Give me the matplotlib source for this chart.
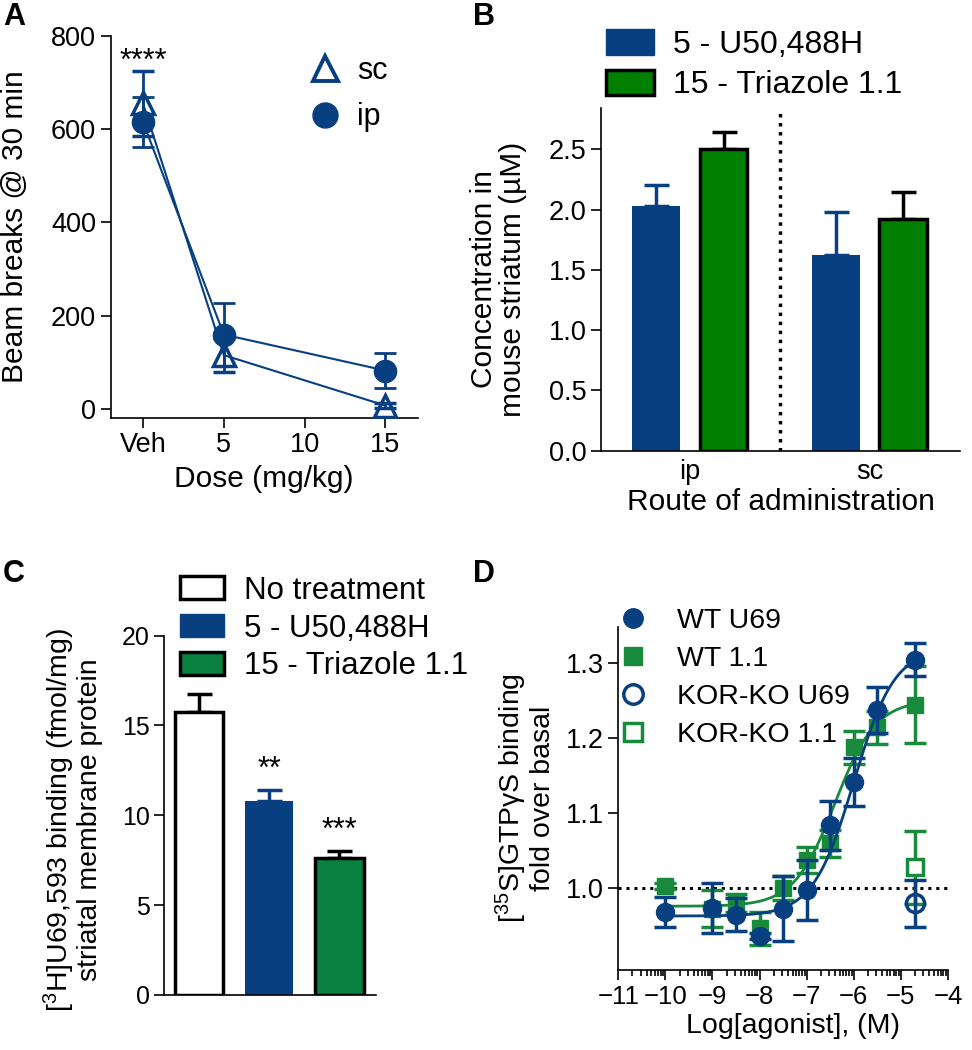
import numpy as np
import matplotlib
matplotlib.use("Agg")
import matplotlib.pyplot as plt
from matplotlib.patches import Patch
from matplotlib.lines import Line2D

plt.rcParams['font.family'] = ['Liberation Sans', 'DejaVu Sans']
plt.rcParams['mathtext.fontset'] = 'custom'
plt.rcParams['mathtext.rm'] = 'Liberation Sans'
plt.rcParams['mathtext.it'] = 'Liberation Sans:italic'
plt.rcParams['axes.spines.top'] = False
plt.rcParams['axes.spines.right'] = False
plt.rcParams['axes.linewidth'] = 1.2
plt.rcParams['xtick.major.width'] = 1.2
plt.rcParams['ytick.major.width'] = 1.2
plt.rcParams['xtick.major.size'] = 7
plt.rcParams['ytick.major.size'] = 7

BLUE = '#073f80'
GREEN_B = '#008000'
GREEN_C = '#0a8040'
GREEN_D = '#188a3c'

# ---- A: locomotor activity
dose_x = [0, 5, 15]
dose_ticks = [0, 5, 10, 15]
dose_labels = ['Veh', '5', '10', '15']
sc_mean = [655, 116, 8]
sc_err = [70, 37, 6]
ip_mean = [615, 160, 83]
ip_err = [53, 67, 37]

# ---- B: striatal concentration
routes = ['ip', 'sc']
u50_conc = [2.03, 1.62]
u50_err = [0.17, 0.36]
tri_conc = [2.50, 1.92]
tri_err = [0.145, 0.225]

# ---- C: [3H]U69,593 binding
treatments = ['No treatment', '5 - U50,488H', '15 - Triazole 1.1']
binding = [15.75, 10.77, 7.65]
binding_err = [1.0, 0.65, 0.36]
binding_stars = ['', '**', '***']

# ---- D: GTPgS binding
log_conc = [-10, -9, -8.5, -8, -7.5, -7, -6.5, -6, -5.5, -4.7]
wt_u69 = [0.968, 0.973, 0.964, 0.936, 0.972, 0.997, 1.083, 1.141, 1.237, 1.304]
wt_u69_err = [0.02, 0.033, 0.022, 0.004, 0.043, 0.04, 0.033, 0.032, 0.031, 0.022]
wt_11 = [1.002, 0.972, 0.979, 0.946, 0.999, 1.037, 1.059, 1.187, 1.214, 1.244]
wt_11_err = [0.004, 0.025, 0.012, 0.022, 0.016, 0.017, 0.018, 0.022, 0.022, 0.051]
ko_x = [-4.7]
ko_u69 = [0.979]
ko_u69_err = [0.031]
ko_11 = [1.027]
ko_11_err = [0.049]
# fitted sigmoid parameters (bottom, top, logEC50, hill)
u69_fit = (0.962, 1.32, -6.0, 1.0)
t11_fit = (0.975, 1.25, -6.4, 1.0)


def sigmoid(x, p):
    bottom, top, ec, hill = p
    return bottom + (top - bottom) / (1 + 10 ** ((ec - x) * hill))


TICK = 19.5
LAB = 21.5

fig = plt.figure(figsize=(9.72, 10.5), dpi=100)

# ================= A
axA = fig.add_axes([0.1139, 0.6022, 0.3158, 0.3638])
axA.errorbar(dose_x, sc_mean, yerr=sc_err, color=BLUE, lw=1.5, marker='^',
             ms=16, mfc='none', mec=BLUE, mew=2.5, capsize=8, capthick=2,
             elinewidth=2, zorder=3)
axA.errorbar(dose_x, ip_mean, yerr=ip_err, color=BLUE, lw=1.5, marker='o',
             ms=16, mfc=BLUE, mec=BLUE, capsize=8, capthick=2,
             elinewidth=2, zorder=3)
axA.set_xlim(-2, 17)
axA.set_ylim(-18, 800)
axA.set_xticks(dose_ticks)
axA.set_xticklabels(dose_labels)
axA.set_yticks([0, 200, 400, 600, 800])
axA.tick_params(labelsize=TICK)
axA.set_ylabel('Beam breaks @ 30 min', fontsize=LAB)
axA.set_xlabel('Dose (mg/kg)', fontsize=LAB)
axA.yaxis.set_label_coords(-0.265, 0.5)
axA.xaxis.set_label_coords(0.5, -0.125)
axA.text(0, 712, '****', ha='center', va='bottom', fontsize=22)
hA = [Line2D([], [], ls='none', marker='^', ms=18, mfc='none', mec=BLUE, mew=2.8),
      Line2D([], [], ls='none', marker='o', ms=18, mfc=BLUE, mec=BLUE)]
axA.legend(hA, ['sc', 'ip'], loc='upper left', bbox_to_anchor=(0.55, 1.02),
           frameon=False, fontsize=22, handlelength=1.2, handletextpad=0.45,
           labelspacing=0.55)
fig.text(0.003, 0.998, 'A', fontsize=22, fontweight='bold', va='top')

# ================= B
axB = fig.add_axes([0.6183, 0.5708, 0.3693, 0.3261])
xb = np.arange(len(routes))
wB = 0.267
axB.bar(xb - 0.187, u50_conc, wB, color=BLUE, zorder=2)
axB.bar(xb + 0.187, tri_conc, wB, color=GREEN_B, edgecolor='black', lw=2.5, zorder=2)
axB.errorbar(xb - 0.187, u50_conc, yerr=[np.zeros(2), u50_err], fmt='none',
             ecolor=BLUE, elinewidth=2.5, capsize=9, capthick=2.5, zorder=1)
axB.errorbar(xb + 0.187, tri_conc, yerr=[np.zeros(2), tri_err], fmt='none',
             ecolor='black', elinewidth=2.5, capsize=9, capthick=2.5, zorder=1)
axB.axvline(0.5, color='black', lw=2.5, ls=(0, (1, 1.6)))
axB.set_xlim(-0.495, 1.503)
axB.set_ylim(0, 2.84)
axB.set_yticks([0, 0.5, 1.0, 1.5, 2.0, 2.5])
axB.set_yticklabels(['%.1f' % v for v in [0, 0.5, 1.0, 1.5, 2.0, 2.5]])
axB.set_xticks(xb)
axB.set_xticklabels(routes)
axB.tick_params(axis='x', length=0, pad=6)
axB.tick_params(labelsize=TICK)
axB.set_ylabel('Concentration in\nmouse striatum (µM)', fontsize=LAB, linespacing=1.05)
axB.set_xlabel('Route of administration', fontsize=LAB)
axB.yaxis.set_label_coords(-0.205, 0.5)
axB.xaxis.set_label_coords(0.5, -0.11)
hB = [Patch(facecolor=BLUE, edgecolor=BLUE),
      Patch(facecolor=GREEN_B, edgecolor='black', lw=2.5)]
axB.legend(hB, ['5 - U50,488H', '15 - Triazole 1.1'], loc='upper left',
           bbox_to_anchor=(-0.065, 1.315), frameon=False, fontsize=23,
           handlelength=1.5, handleheight=0.85, handletextpad=0.6, labelspacing=0.3)
fig.text(0.487, 0.998, 'B', fontsize=22, fontweight='bold', va='top')

# ================= C
axC = fig.add_axes([0.1691, 0.0524, 0.2178, 0.3422])
xc = np.arange(len(treatments))
faces = ['white', BLUE, GREEN_C]
edges = ['black', BLUE, 'black']
ecol = ['black', BLUE, 'black']
for i in range(len(treatments)):
    axC.bar(xc[i], binding[i], 0.69, color=faces[i], edgecolor=edges[i],
            lw=2.5 if edges[i] == 'black' else 0, zorder=2)
    axC.errorbar(xc[i], binding[i], yerr=[[0], [binding_err[i]]], fmt='none',
                 ecolor=ecol[i], elinewidth=2.5, capsize=9, capthick=2.5, zorder=1)
    if binding_stars[i]:
        axC.text(xc[i], binding[i] + binding_err[i] + 0.3, binding_stars[i],
                 ha='center', va='bottom', fontsize=22)
axC.set_xlim(-0.49, 2.52)
axC.set_ylim(0, 20)
axC.set_yticks([0, 5, 10, 15, 20])
axC.set_xticks([])
axC.tick_params(labelsize=18)
axC.set_ylabel('[$^{3}$H]U69,593 binding (fmol/mg)\nstriatal membrane protein',
               fontsize=20.5, linespacing=1.0)
axC.yaxis.set_label_coords(-0.29, 0.487)
hC = [Patch(facecolor='white', edgecolor='black', lw=2.5),
      Patch(facecolor=BLUE, edgecolor=BLUE),
      Patch(facecolor=GREEN_C, edgecolor='black', lw=2.5)]
axC.legend(hC, treatments, loc='upper left', bbox_to_anchor=(-0.06, 1.245),
           frameon=False, fontsize=22.5, handlelength=1.4, handleheight=0.75,
           handletextpad=0.65, labelspacing=0.25)
fig.text(0.003, 0.468, 'C', fontsize=22, fontweight='bold', va='top')

# ================= D
axD = fig.add_axes([0.6361, 0.0762, 0.3392, 0.327])
xs = np.linspace(-10, -4.7, 300)
axD.axhline(1.0, color='black', lw=2.2, ls=(0, (1, 1.6)), zorder=1)
axD.plot(xs, sigmoid(xs, t11_fit), color=GREEN_D, lw=2, zorder=2)
axD.errorbar(log_conc, wt_11, yerr=wt_11_err, fmt='s', color=GREEN_D, ms=12,
             capsize=8, capthick=2.5, elinewidth=2.5, zorder=3)
axD.errorbar(ko_x, ko_11, yerr=ko_11_err, fmt='s', color=GREEN_D, ms=12,
             mfc='white', mew=2.5, capsize=8, capthick=2.5, elinewidth=2.5, zorder=3)
axD.plot(xs, sigmoid(xs, u69_fit), color=BLUE, lw=2, zorder=4)
axD.errorbar(log_conc, wt_u69, yerr=wt_u69_err, fmt='o', color=BLUE, ms=13,
             capsize=8, capthick=2.5, elinewidth=2.5, zorder=5)
axD.errorbar(ko_x, ko_u69, yerr=ko_u69_err, fmt='o', color=BLUE, ms=13,
             mfc='none', mew=2.5, capsize=8, capthick=2.5, elinewidth=2.5, zorder=5)
axD.set_xlim(-11, -4)
axD.set_ylim(0.89, 1.348)
axD.set_yticks([1.0, 1.1, 1.2, 1.3])
axD.set_xticks(np.arange(-11, -3))
minor = [n + np.log10(k) for n in range(-11, -4) for k in range(2, 10)]
axD.set_xticks(minor, minor=True)
axD.tick_params(axis='x', which='minor', length=4, width=1.2)
axD.tick_params(axis='y', labelsize=TICK)
axD.tick_params(axis='x', labelsize=18.5)
axD.set_ylabel('[$^{35}$S]GTPγS binding\nfold over basal', fontsize=20.5, linespacing=1.05)
axD.set_xlabel('Log[agonist], (M)', fontsize=20.5)
axD.yaxis.set_label_coords(-0.19, 0.5)
axD.xaxis.set_label_coords(0.53, -0.125)
hD = [Line2D([], [], ls='none', marker='o', ms=14, color=BLUE),
      Line2D([], [], ls='none', marker='s', ms=13, color=GREEN_D),
      Line2D([], [], ls='none', marker='o', ms=14, mfc='none', mec=BLUE, mew=2.5),
      Line2D([], [], ls='none', marker='s', ms=13, mfc='none', mec=GREEN_D, mew=2.5)]
axD.legend(hD, ['WT U69', 'WT 1.1', 'KOR-KO U69', 'KOR-KO 1.1'], loc='upper left',
           bbox_to_anchor=(-0.12, 1.13), frameon=False, fontsize=20.5,
           handletextpad=0.55, labelspacing=0.42)
fig.text(0.487, 0.468, 'D', fontsize=22, fontweight='bold', va='top')

fig.savefig('out.png', dpi=100)
